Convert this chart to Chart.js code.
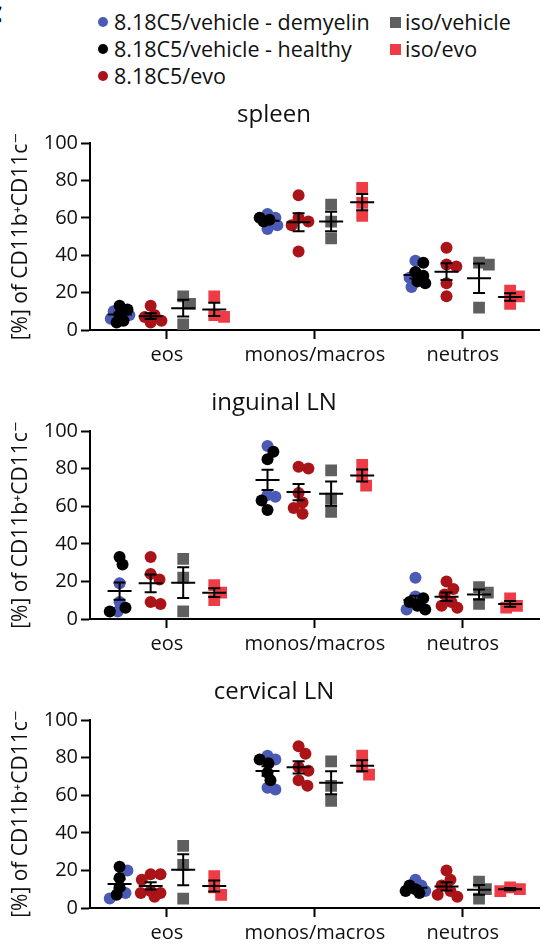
<!DOCTYPE html>
<html>
<head>
<meta charset="utf-8">
<script src="https://cdn.jsdelivr.net/npm/chart.js@4.4.1/dist/chart.umd.min.js"></script>
<style>
  html, body { margin: 0; padding: 0; background: #fff; }
  body { width: 548px; height: 949px; overflow: hidden; position: relative; font-family: 'Open Sans', sans-serif; color: #111; }
  canvas { position: absolute; left: 0; }
  .item { position: absolute; font-size: 21.5px; line-height: 28px; white-space: nowrap; }
  .dot { position: absolute; width: 10px; height: 10px; border-radius: 50%; }
  .sq { position: absolute; width: 11px; height: 11px; }
  #corner { position: absolute; left: -13px; top: -9px; font: bold 30px 'Open Sans', sans-serif; color: #000; }
</style>
</head>
<body>
<div id="corner">c</div>
<div id="legend"></div>
<canvas id="c0"></canvas>
<canvas id="c1"></canvas>
<canvas id="c2"></canvas>
<script>
const categories = ['eos', 'monos/macros', 'neutros'];
const panelTitles = ['spleen', 'inguinal LN', 'cervical LN'];
const groupNames = ['8.18C5/vehicle - demyelin', '8.18C5/vehicle - healthy', '8.18C5/evo', 'iso/vehicle', 'iso/evo'];
const groupColors = ['#4B5AB4', '#000000', '#AA1419', '#5F5F5F', '#EE3B46'];

// values per category: [eos, monos/macros, neutros]
const spleenDemyelin = [[10, 8, 6], [62, 60, 56, 54], [37, 23, 28]];
const spleenHealthy = [[13, 11, 9, 5, 4], [60, 59, 58], [36, 31, 29, 26, 25]];
const spleenEvo = [[13, 8, 7, 5, 4], [72, 60, 58, 56, 42], [44, 35, 34, 25, 18]];
const spleenIsoVehicle = [[18, 14, 3], [67, 58, 49], [36, 35, 12]];
const spleenIsoEvo = [[18, 8, 7], [76, 68, 61], [21, 18, 14]];

const inguinalDemyelin = [[19, 9, 4], [92, 66, 65], [22, 12, 5]];
const inguinalHealthy = [[29, 33, 6, 4], [89, 85, 63, 58], [11, 9, 7, 5]];
const inguinalEvo = [[33, 24, 21, 9, 8], [80, 81, 67, 62, 59, 56], [20, 16, 13, 9, 7, 6]];
const inguinalIsoVehicle = [[32, 22, 4], [79, 64, 57], [17, 14, 8]];
const inguinalIsoEvo = [[18, 14, 10], [82, 76, 71], [11, 7, 6]];

const cervicalDemyelin = [[20, 8, 5], [81, 79, 64, 63], [15, 12, 9]];
const cervicalHealthy = [[22, 16, 11, 7], [79, 77, 72, 68], [12, 10, 9, 8]];
const cervicalEvo = [[18, 18, 15, 9, 8, 6, 8], [86, 82, 75, 73, 68, 65], [20, 15, 12, 9, 7, 6]];
const cervicalIsoVehicle = [[33, 23, 5], [78, 65, 57], [14, 10, 5]];
const cervicalIsoEvo = [[17, 11, 7], [81, 75, 71], [11, 10, 9]];

const yTicks = [0, 20, 40, 60, 80, 100];

const panelData = [
  [spleenDemyelin, spleenHealthy, spleenEvo, spleenIsoVehicle, spleenIsoEvo],
  [inguinalDemyelin, inguinalHealthy, inguinalEvo, inguinalIsoVehicle, inguinalIsoEvo],
  [cervicalDemyelin, cervicalHealthy, cervicalEvo, cervicalIsoVehicle, cervicalIsoEvo]
];

// layout
const areaTops = [143, 431, 720];
const areaHeights = [187, 188, 188];
const titleBlock = 47, xAxisBlock = 38, yAxisWidth = 90;
const xMin = -0.52, xMax = 2.52;
const pxPerX = (548 - yAxisWidth) / (xMax - xMin);
const slot = [-0.32, -0.32, -0.11, 0.11, 0.32]; // demyelin and healthy share a column

// legend
const legend = document.getElementById('legend');
const legendPos = [[103, 22], [103, 49], [103, 76], [395, 22], [395, 49]];
groupNames.forEach((name, i) => {
  const [cx, cy] = legendPos[i];
  const mk = document.createElement('div');
  mk.className = i < 3 ? 'dot' : 'sq';
  const s = i < 3 ? 10 : 11;
  mk.style.left = (cx - s / 2) + 'px';
  mk.style.top = (cy - s / 2) + 'px';
  mk.style.background = groupColors[i];
  legend.appendChild(mk);
  const t = document.createElement('div');
  t.className = 'item';
  t.textContent = name;
  t.style.left = (cx + (i < 3 ? 11 : 10)) + 'px';
  t.style.top = (cy - 14) + 'px';
  legend.appendChild(t);
});

// tight beeswarm: small horizontal pixel offsets, overlap allowed
function swarm(values, pxPerY, minDist, maxOff) {
  const order = values.map((v, i) => i).sort((a, b) => values[b] - values[a]);
  const placed = [];
  const out = new Array(values.length).fill(0);
  order.forEach(i => {
    const y = values[i] * pxPerY;
    let best = 0, bestD = -1;
    for (let k = 0; k <= 2 * maxOff; k++) {
      const cand = k === 0 ? 0 : (k % 2 ? 1 : -1) * Math.ceil(k / 2);
      const d = placed.reduce((m, p) => Math.min(m, Math.hypot(p.x - cand, p.y - y)), Infinity);
      if (d >= minDist) { best = cand; break; }
      if (d > bestD) { bestD = d; best = cand; }
    }
    placed.push({ x: best, y: y });
    out[i] = best;
  });
  return out;
}

const meanSemPlugin = {
  id: 'meanSem',
  afterDatasetsDraw(chart, args, opts) {
    const { ctx, scales: { x, y } } = chart;
    ctx.save();
    ctx.strokeStyle = '#000';
    ctx.lineWidth = 2;
    opts.groups.forEach(g => {
      const n = g.values.length;
      const mean = g.values.reduce((a, b) => a + b, 0) / n;
      const sd = Math.sqrt(g.values.reduce((a, b) => a + (b - mean) ** 2, 0) / (n - 1));
      const sem = sd / Math.sqrt(n);
      const px = x.getPixelForValue(g.x);
      const pm = y.getPixelForValue(mean);
      const pt = y.getPixelForValue(mean + sem);
      const pb = y.getPixelForValue(mean - sem);
      ctx.beginPath();
      ctx.moveTo(px - 12, pm); ctx.lineTo(px + 12, pm);
      ctx.moveTo(px, pt); ctx.lineTo(px, pb);
      ctx.moveTo(px - 6, pt); ctx.lineTo(px + 6, pt);
      ctx.moveTo(px - 6, pb); ctx.lineTo(px + 6, pb);
      ctx.stroke();
    });
    ctx.restore();
  }
};

panelData.forEach((groups, p) => {
  const canvas = document.getElementById('c' + p);
  const h = titleBlock + areaHeights[p] + xAxisBlock;
  canvas.width = 548;
  canvas.height = h;
  canvas.style.top = (areaTops[p] - titleBlock) + 'px';
  const pxPerY = areaHeights[p] / 100;

  const points = groups.map(() => []);
  const bars = [];
  categories.forEach((cat, c) => {
    // demyelin + healthy are swarmed together in one column
    const shared = groups[0][c].concat(groups[1][c]);
    const sharedDx = swarm(shared, pxPerY, 8, 10);
    shared.forEach((v, k) => {
      const g = k < groups[0][c].length ? 0 : 1;
      points[g].push({ x: c + slot[0] + sharedDx[k] / pxPerX, y: v });
    });
    bars.push({ x: c + slot[0], values: shared });
    for (let g = 2; g < 5; g++) {
      const vals = groups[g][c];
      const dx = swarm(vals, pxPerY, 10, 11);
      vals.forEach((v, k) => points[g].push({ x: c + slot[g] + dx[k] / pxPerX, y: v }));
      bars.push({ x: c + slot[g], values: vals });
    }
  });

  // healthy first so it is painted over demyelin
  const drawOrder = [1, 0, 2, 3, 4];
  const datasets = drawOrder.map(g => ({
    label: groupNames[g],
    data: points[g],
    backgroundColor: groupColors[g],
    borderWidth: 0,
    pointStyle: g < 3 ? 'circle' : 'rect',
    pointRadius: g < 3 ? 6 : 8.3
  }));

  new Chart(canvas, {
    type: 'scatter',
    data: { datasets },
    options: {
      responsive: false,
      animation: false,
      events: [],
      layout: { padding: 0 },
      plugins: {
        legend: { display: false },
        tooltip: { enabled: false },
        title: {
          display: true,
          text: panelTitles[p],
          color: '#111',
          font: { family: "'Open Sans', sans-serif", size: 24, weight: 'normal', lineHeight: 29 / 24 },
          padding: { top: 5, bottom: 13 }
        },
        meanSem: { groups: bars }
      },
      scales: {
        x: {
          type: 'linear',
          min: xMin,
          max: xMax,
          afterBuildTicks: s => { s.ticks = categories.map((c, i) => ({ value: i })); },
          afterFit: s => { s.height = xAxisBlock; },
          ticks: {
            autoSkip: false,
            maxRotation: 0,
            padding: 4,
            color: '#111',
            font: { family: "'Open Sans', sans-serif", size: 20 },
            callback: v => categories[v]
          },
          grid: { drawOnChartArea: false, drawTicks: true, tickLength: 9, tickWidth: 2, tickColor: '#000' },
          border: { display: true, color: '#000', width: 2 }
        },
        y: {
          min: 0,
          max: 100,
          afterBuildTicks: s => { s.ticks = yTicks.map(v => ({ value: v })); },
          afterFit: s => { s.width = yAxisWidth; },
          ticks: {
            padding: 3,
            color: '#111',
            font: { family: "'Open Sans', sans-serif", size: 20 }
          },
          grid: { drawOnChartArea: false, drawTicks: true, tickLength: 9, tickWidth: 2, tickColor: '#000' },
          border: { display: true, color: '#000', width: 2 },
          title: {
            display: true,
            text: '[%] of CD11b\u207ACD11c\u207B',
            color: '#111',
            font: { family: "'Open Sans', 'DejaVu Sans', sans-serif", size: 21 },
            padding: { top: 8, bottom: 0 }
          }
        }
      }
    },
    plugins: [meanSemPlugin]
  });
});
</script>
</body>
</html>
